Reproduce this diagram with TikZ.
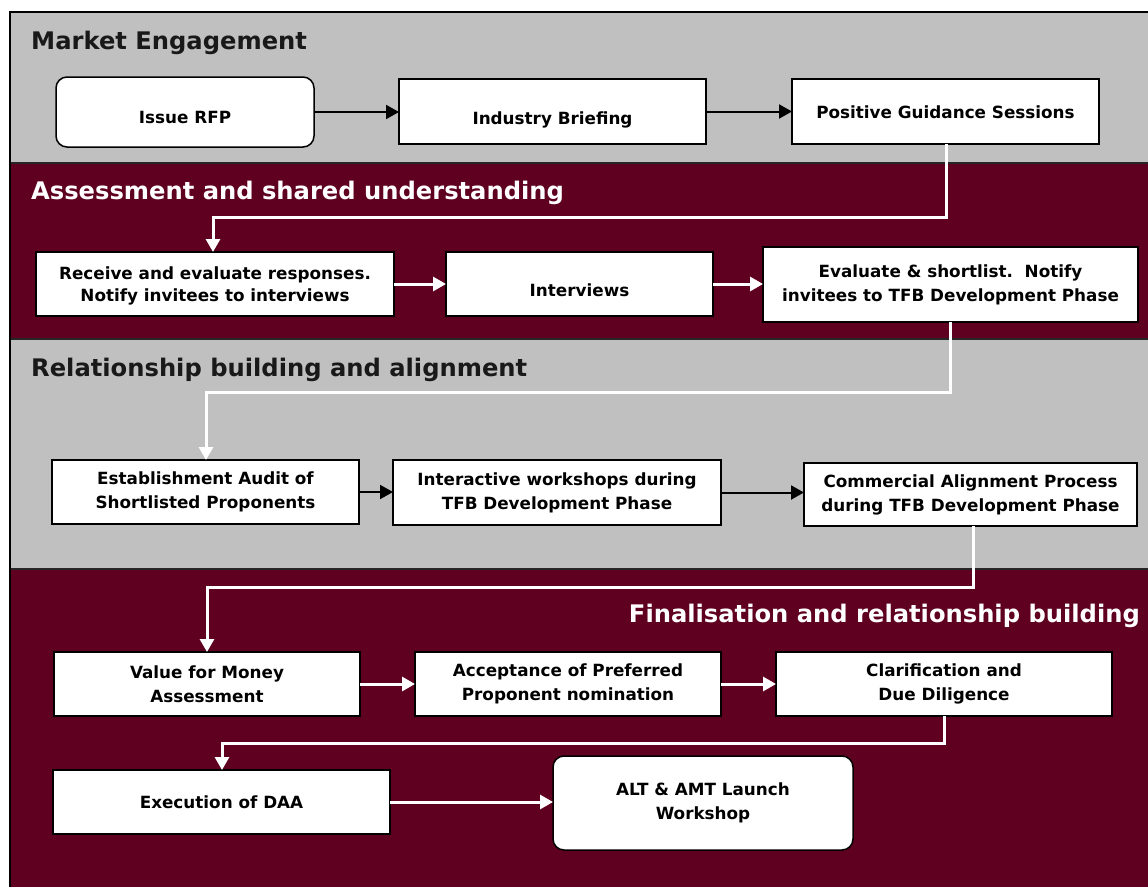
\documentclass[tikz,border=0pt]{standalone}
\usepackage{fontspec}
\setmainfont{DejaVu Sans}
\usetikzlibrary{arrows.meta}
\definecolor{maroon}{RGB}{95,0,33}
\definecolor{bandgray}{RGB}{192,192,192}
\newcommand{\lowtext}[2]{\raisebox{-#1}[0pt][0pt]{#2}}
\begin{document}
\begin{tikzpicture}[x=1pt,y=-1pt,
  box/.style={draw=black, line width=1.5pt, fill=white, align=center, inner sep=2pt, outer sep=0pt,
     font=\bfseries\fontsize{16.8}{24}\selectfont, text=black},
  rbox/.style={box, rounded corners=11pt},
  title/.style={font=\bfseries\fontsize{24.2}{28}\selectfont, inner sep=0pt},
  bline/.style={draw=black, line width=2pt, -{Triangle[length=13pt,width=14pt]}},
  wline/.style={draw=white, line width=3pt, -{Triangle[length=13pt,width=14pt]}},
]
\useasboundingbox (0,0) rectangle (1148,886);
\clip (0,0) rectangle (1148,886);
\fill[white] (0,0) rectangle (1148,886);
% bands
\fill[bandgray] (10,12) rectangle (1160,163);
\fill[maroon] (10,163) rectangle (1160,339);
\fill[bandgray] (10,339) rectangle (1160,569);
\fill[maroon] (10,569) rectangle (1160,900);
\draw[line width=2pt, color=black!85] (10,163) -- (1160,163) (10,339) -- (1160,339) (10,569) -- (1160,569);
\draw[line width=2pt, black] (10,900) -- (10,12) -- (1160,12);
% titles
\node[title, anchor=base west, text=black!90] (t1) at (31,49) {Market Engagement};
\node[title, anchor=base west, text=white] (t2) at (31,199) {Assessment and shared understanding};
\node[title, anchor=base west, text=black!90] (t3) at (31,376) {Relationship building and alignment};
\node[title, anchor=base east, text=white] (t4) at (1140,622) {Finalisation and relationship building};
% boxes
\node[rbox, minimum width=258pt, minimum height=70pt] (issue) at (185,112) {\lowtext{11pt}{Issue RFP}};
\node[box, minimum width=307pt, minimum height=65pt] (ind) at (552.5,111.5) {\lowtext{13pt}{Industry Briefing}};
\node[box, minimum width=307pt, minimum height=65pt] (pgs) at (945.5,111.5) {\lowtext{7pt}{Positive Guidance Sessions}};
\node[box, minimum width=358pt, minimum height=64pt] (rec) at (215,284) {\lowtext{6pt}{\fontsize{16.8}{22}\selectfont\begin{tabular}{@{}c@{}}Receive and evaluate responses.\\Notify invitees to interviews\end{tabular}}};
\node[box, minimum width=267pt, minimum height=64pt] (int) at (579.5,284) {\lowtext{12pt}{Interviews}};
\node[box, minimum width=375pt, minimum height=75pt] (eva) at (950.5,284.5) {\fontsize{16.8}{26}\selectfont Evaluate \& shortlist.\ \ Notify\\invitees to TFB Development Phase};
\node[box, minimum width=307pt, minimum height=64pt] (est) at (205.5,492) {Establishment Audit of\\Shortlisted Proponents};
\node[box, minimum width=328pt, minimum height=65pt] (iws) at (557,492.5) {Interactive workshops during\\TFB Development Phase};
\node[box, minimum width=333pt, minimum height=63pt] (com) at (970.5,494.5) {Commercial Alignment Process\\during TFB Development Phase};
\node[box, minimum width=306pt, minimum height=64pt] (vfm) at (207,684) {Value for Money\\Assessment};
\node[box, minimum width=306pt, minimum height=64pt] (acc) at (568,684) {Acceptance of Preferred\\Proponent nomination};
\node[box, minimum width=336pt, minimum height=64pt] (cla) at (944,684) {Clarification and\\Due Diligence};
\node[box, minimum width=337pt, minimum height=64pt] (exe) at (221.5,802) {Execution of DAA};
\node[rbox, minimum width=300pt, minimum height=94pt] (alt) at (703,803) {ALT \& AMT Launch\\Workshop};
% bend coordinates
\coordinate (c1a) at (946,217);
\coordinate (c1b) at (213,217);
\coordinate (c2a) at (950,392);
\coordinate (c2b) at (206,392);
\coordinate (c3a) at (973,587);
\coordinate (c3b) at (207,587);
\coordinate (c4a) at (944,743);
\coordinate (c4b) at (222,743);
% connectors
\draw[bline] (issue.east) -- (ind.west |- issue.east);
\draw[bline] (ind.east) -- (pgs.west);
\draw[wline] (c1a |- pgs.south) -- (c1a) -- (c1b) -- (c1b |- rec.north);
\draw[wline] (rec.east) -- (int.west);
\draw[wline] (int.east) -- (eva.west |- int.east);
\draw[wline] (c2a |- eva.south) -- (c2a) -- (c2b) -- (c2b |- est.north);
\draw[bline] (est.east) -- (iws.west |- est.east);
\draw[bline] (iws.east) -- (com.west |- iws.east);
\draw[wline] (c3a |- com.south) -- (c3a) -- (c3b) -- (c3b |- vfm.north);
\draw[wline] (vfm.east) -- (acc.west);
\draw[wline] (acc.east) -- (cla.west);
\draw[wline] (c4a |- cla.south) -- (c4a) -- (c4b) -- (c4b |- exe.north);
\draw[wline] (exe.east) -- (alt.west |- exe.east);
\end{tikzpicture}
\end{document}
